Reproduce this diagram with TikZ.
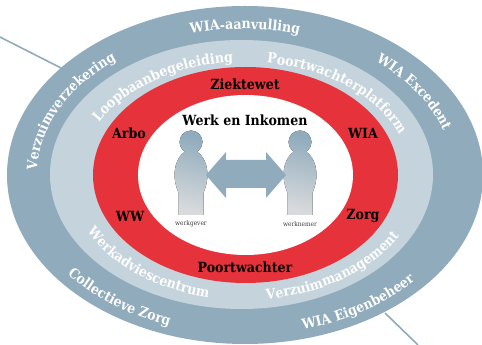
\documentclass[tikz,border=0pt]{standalone}
\usepackage{fontspec}
\setmainfont{DejaVu Serif Condensed}
\usetikzlibrary{decorations.text}
\definecolor{ringblue}{HTML}{8FABBC}
\definecolor{ringlight}{HTML}{C5D3DC}
\definecolor{ringred}{HTML}{E6323A}
\definecolor{figtop}{HTML}{8FABBC}
\definecolor{figbot}{HTML}{D8DADC}
\tikzset{
  ring/.style={draw=none, fill=#1},
  schemetext/.style={font=\bfseries\fontsize{14}{14}\selectfont, text=black, inner sep=0pt},
  persontext/.style={font=\fontsize{6.5}{6.5}\selectfont, text=black!75, inner sep=0pt},
  person/.style={draw=none, top color=figtop, bottom color=figbot, shading angle=-15},
}
% text along a piece of an ellipse round the centre: rx, ry, start, end, text
\newcommand{\ringlabel}[5]{
  \path[decorate, decoration={text along path, text align=center,
      text={|\bfseries\fontsize{14}{14}\selectfont\color{white}|#5}}]
    ([shift={(c)}]#3:#1 and #2) arc[start angle=#3, end angle=#4, x radius=#1, y radius=#2];
}
\newcommand{\persoon}[1]{
  \fill[person] (#1,203) circle (11.5)
    (#1-12.5,130) -- (#1+12.5,130) -- (#1+12.5,152)
    .. controls (#1+15,158) and (#1+16.5,165) .. (#1+16.5,170)
    .. controls (#1+16.5,184) and (#1+9,195) .. (#1,195)
    .. controls (#1-9,195) and (#1-16.5,184) .. (#1-16.5,170)
    .. controls (#1-16.5,165) and (#1-15,158) .. (#1-12.5,152) -- cycle;
}
\begin{document}
\begin{tikzpicture}[x=1pt, y=1pt]
\useasboundingbox (0,0) rectangle (482,345);
\coordinate (c) at (245,170);
\coordinate (lineA) at (0,308);
\coordinate (lineB) at (61,277);
\coordinate (lineC) at (385,32);
\coordinate (lineD) at (418,0);
\draw[ringblue, line width=1.6pt] (lineA) -- (lineB);
\draw[ringblue, line width=1.6pt] (lineC) -- (lineD);
\fill[ring=ringblue] (c) ellipse (238 and 169);
\fill[ring=ringlight] (241.5,170.5) ellipse (191.5 and 134.5);
\fill[ring=ringred] (245.5,170) ellipse (152.5 and 108);
\fill[ring=white] (245.5,170) ellipse (107.5 and 80);
% outer ring
\ringlabel{208}{146}{223}{93}{Verzuimverzekering}
\ringlabel{208}{146}{125}{55}{WIA-aanvulling}
\ringlabel{208}{146}{77}{-17}{WIA Excedent}
\ringlabel{226}{160}{189}{273}{Collectieve Zorg}
\ringlabel{226}{160}{262}{348}{WIA Eigenbeheer}
% inner ring
\ringlabel{165}{113}{202}{58}{Loopbaanbegeleiding}
\ringlabel{165}{113}{115}{-25}{Poortwachterplatform}
\ringlabel{177}{125}{166}{288}{Werkadviescentrum}
\ringlabel{177}{125}{248}{370}{Verzuimmanagement}
% red ring
\node[schemetext] (ziektewet) at (245,261) {Ziektewet};
\node[schemetext] (arbo) at (129,212) {Arbo};
\node[schemetext] (wia) at (363,212) {WIA};
\node[schemetext] (ww) at (130,129) {WW};
\node[schemetext] (zorg) at (363,129) {Zorg};
\node[schemetext] (poortwachter) at (245,78) {Poortwachter};
\node[schemetext] (werk) at (245,225) {Werk en Inkomen};
% persons
\persoon{191}
\persoon{300}
\node[persontext] (werkgever) at (191,121) {werkgever};
\node[persontext] (werknemer) at (300,121) {werknemer};
\fill[ringblue] (206,170) -- (226,193) -- (226,185) -- (266,185) -- (266,193) -- (286,170)
  -- (266,147) -- (266,157) -- (226,157) -- (226,147) -- cycle;
\end{tikzpicture}
\end{document}
